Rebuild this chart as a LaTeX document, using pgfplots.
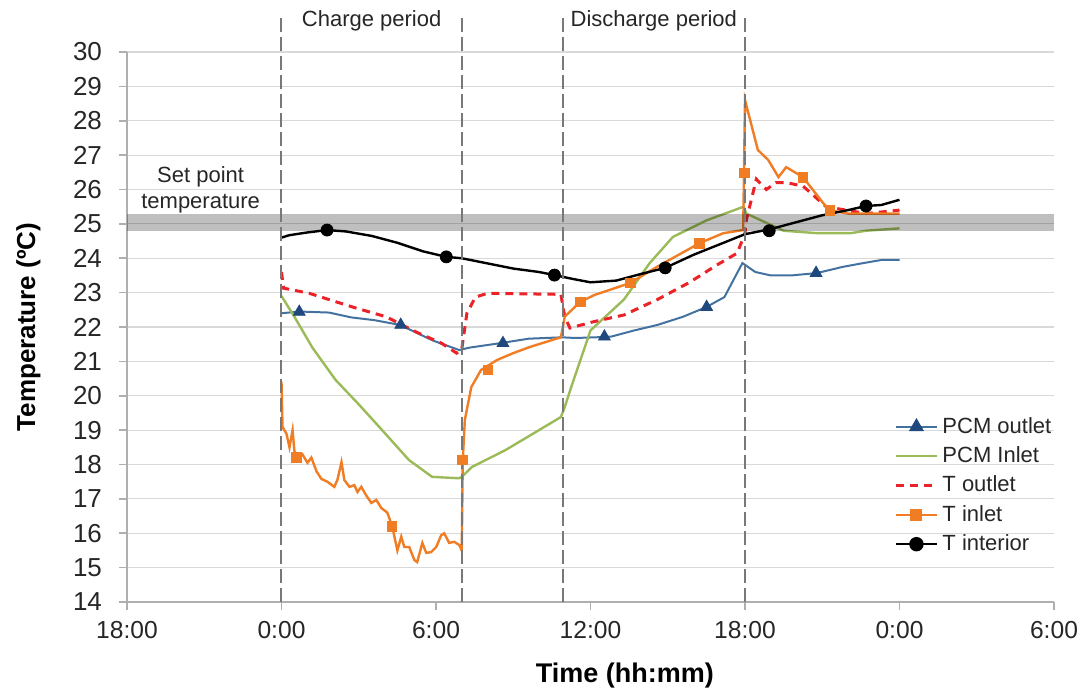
\documentclass[border=0pt]{standalone}
\usepackage{fontspec}
\setmainfont{Liberation Sans}
\usepackage{pgfplots}
\pgfplotsset{compat=1.18}

\definecolor{pcmline}{RGB}{68,114,160}
\definecolor{pcmmark}{RGB}{31,73,125}
\definecolor{pcmgreen}{RGB}{155,187,89}
\definecolor{tout}{RGB}{235,35,40}
\definecolor{tin}{RGB}{240,125,35}
\definecolor{gridc}{RGB}{217,217,217}
\definecolor{axc}{RGB}{175,175,175}
\definecolor{dashc}{RGB}{120,120,120}

\begin{document}
\begin{tikzpicture}
\begin{axis}[
  scale only axis, width=463.5pt, height=275pt,
  xmin=-6, xmax=30, ymin=14, ymax=30,
  clip=false,
  axis x line*=bottom, axis y line*=left,
  axis line style={-, axc, line width=0.8pt},
  xtick={-6,0,6,12,18,24,30},
  xticklabels={18:00,0:00,6:00,12:00,18:00,0:00,6:00},
  ytick={14,15,...,30},
  ymajorgrids, grid style={gridc, line width=0.6pt},
  tick align=outside, major tick length=4pt,
  tick style={axc, line width=0.8pt},
  /pgf/number format/assume math mode=true,
  yticklabel style={font=\fontsize{13}{15}\selectfont, text=black!85, xshift=-5pt},
  xticklabel style={font=\fontsize{12.3}{14}\selectfont, text=black!85, yshift=-2pt},
  xlabel={\textbf{Time (hh:mm)}},
  xlabel style={font=\fontsize{13.5}{16}\selectfont, at={(axis description cs:0.537,-0.147)}, anchor=base},
  ylabel={\textbf{Temperature (ºC)}},
  ylabel style={font=\fontsize{13}{16}\selectfont, at={(axis description cs:-0.099,0.5)}, anchor=base, rotate=0},
  legend style={draw=none, fill=none, at={(0.821,0.351)}, anchor=north west,
    font=\fontsize{11}{13}\selectfont, row sep=1.2pt, text=black!85},
  legend cell align=left,
  legend image code/.code={\draw[mark repeat=2,mark phase=2,#1] plot coordinates {(0pt,0pt)(10.25pt,0pt)(20.5pt,0pt)};},
]
\coordinate (sw) at (rel axis cs:0,0);

% PCM outlet
\addplot[pcmline, line width=1pt, no markers, forget plot] coordinates {
(0,22.40)(0.7,22.45)(1.85,22.42)(2.7,22.28)(3.6,22.2)(4.6,22.06)(5.9,21.6)(6.9,21.33)
(7.3,21.4)(8.5,21.53)(9.6,21.66)(10.9,21.7)(11.4,21.68)(12.2,21.7)(12.8,21.72)
(13.7,21.9)(14.6,22.06)(15.6,22.3)(16.5,22.58)(17.2,22.87)(17.9,23.86)(18.4,23.6)
(19.0,23.5)(19.8,23.5)(20.8,23.57)(21.8,23.75)(22.6,23.86)(23.3,23.95)(24.0,23.95)};
\addplot[only marks, mark=triangle*, mark size=3.4pt, color=pcmmark, forget plot] coordinates {
(0.69,22.44)(4.63,22.06)(8.6,21.53)(12.54,21.72)(16.51,22.58)(20.76,23.57)};

% PCM inlet
\addplot[pcmgreen, line width=1.2pt, no markers, forget plot] coordinates {
(0,22.9)(0.5,22.3)(1.2,21.4)(2.1,20.46)(3.0,19.75)(3.8,19.09)(4.95,18.13)(5.85,17.64)
(6.9,17.6)(7.0,17.64)(7.4,17.93)(8.7,18.42)(10.0,19.0)(10.85,19.38)(11.0,19.67)
(11.25,20.25)(12.0,21.9)(13.3,22.8)(14.3,23.86)(15.2,24.62)(16.5,25.1)(17.95,25.5)
(18.05,25.3)(19.5,24.8)(20.8,24.73)(22.1,24.73)(22.7,24.8)(24.0,24.87)};

% T outlet
\addplot[tout, line width=1.5pt, dash pattern=on 4pt off 3pt, no markers, forget plot] coordinates {
(0.0,23.6)(0.08,23.13)(1.08,22.98)(2.13,22.73)(2.9,22.55)(4.05,22.3)(5.33,21.82)
(6.21,21.53)(6.8,21.24)(7.0,21.35)(7.2,22.4)(7.53,22.87)(8.0,22.98)(10.85,22.95)
(11.0,22.3)(11.2,21.97)(12.1,22.15)(13.3,22.35)(14.6,22.8)(15.85,23.3)(16.9,23.8)
(17.7,24.15)(18.0,24.73)(18.05,25.1)(18.44,26.3)(18.83,26.0)(19.2,26.2)(19.6,26.2)
(20.25,26.1)(21.15,25.5)(22.7,25.3)(24.0,25.4)};

% T inlet
\addplot[tin, line width=1.2pt, no markers, forget plot] coordinates {
(0.0,20.4)(0.04,19.09)(0.19,18.9)(0.31,18.5)(0.43,19.0)(0.50,18.4)(0.62,18.2)(0.81,18.3)
(1.01,18.05)(1.16,18.2)(1.36,17.8)(1.55,17.58)(1.78,17.5)(2.05,17.35)(2.17,17.55)
(2.33,18.07)(2.44,17.55)(2.64,17.35)(2.83,17.4)(2.95,17.2)(3.10,17.35)(3.29,17.1)
(3.49,16.88)(3.68,16.97)(3.88,16.73)(4.11,16.6)(4.30,16.2)(4.50,15.5)(4.65,15.9)
(4.77,15.6)(4.96,15.6)(5.16,15.22)(5.27,15.16)(5.47,15.72)(5.62,15.43)(5.81,15.45)
(6.01,15.6)(6.20,15.94)(6.32,16.0)(6.51,15.72)(6.71,15.75)(6.90,15.66)(7.0,15.5)
(7.04,18.13)(7.12,19.3)(7.27,19.87)(7.37,20.25)(7.75,20.75)(8.37,21.04)(9.0,21.24)
(9.65,21.42)(10.85,21.7)(11.0,22.3)(11.6,22.73)(12.15,22.93)(13.54,23.28)(14.58,23.75)
(16.24,24.44)(17.16,24.73)(17.93,24.82)(17.96,26.48)(18.0,28.6)(18.5,27.15)(18.9,26.86)
(19.3,26.36)(19.6,26.65)(20.25,26.36)(21.25,25.4)(22.0,25.3)(24.0,25.3)};
\addplot[only marks, mark=square*, mark size=2.4pt, color=tin, forget plot] coordinates {
(0.58,18.2)(4.28,16.2)(7.02,18.13)(8.02,20.75)(11.61,22.73)(13.54,23.28)(16.24,24.44)
(17.97,26.48)(20.25,26.36)(21.3,25.4)};

% T interior
\addplot[black, line width=1.2pt, no markers, forget plot] coordinates {
(0,24.6)(0.3,24.67)(1.0,24.75)(1.77,24.82)(2.5,24.78)(3.5,24.65)(4.5,24.45)(5.5,24.2)
(6.4,24.04)(7.0,24.0)(8.0,23.85)(9.0,23.7)(10.0,23.6)(10.6,23.51)(11.3,23.4)(12.0,23.3)
(13.0,23.35)(14.0,23.55)(14.9,23.72)(16.0,24.1)(17.0,24.4)(18.0,24.7)(19.0,24.85)
(20.0,25.05)(21.0,25.25)(22.0,25.4)(22.7,25.52)(23.3,25.55)(24.0,25.7)};
\addplot[only marks, mark=*, mark size=3pt, color=black, forget plot] coordinates {
(1.77,24.82)(6.4,24.04)(10.6,23.51)(14.9,23.72)(18.94,24.8)(22.7,25.52)};

% set point band
\fill[black, opacity=0.25] (axis cs:-6,24.8) rectangle (axis cs:30,25.3);

% period lines
\draw[dashc, line width=1pt, dash pattern=on 7pt off 2.5pt] (axis cs:0,14) -- (axis cs:0,31.1);
\draw[dashc, line width=1pt, dash pattern=on 7pt off 2.5pt] (axis cs:7,14) -- (axis cs:7,31.1);
\draw[dashc, line width=1pt, dash pattern=on 7pt off 2.5pt] (axis cs:10.95,14) -- (axis cs:10.95,31.1);
\draw[dashc, line width=1pt, dash pattern=on 7pt off 2.5pt] (axis cs:18,14) -- (axis cs:18,31.1);

\node[anchor=base, font=\fontsize{11}{13}\selectfont, text=black!85] at (axis cs:3.5,30.75) {Charge period};
\node[anchor=base, font=\fontsize{11}{13}\selectfont, text=black!85] at (axis cs:14.46,30.75) {Discharge period};
\node[align=center, font=\fontsize{11}{13}\selectfont, text=black!85] at (axis cs:-3.14,26.0) {Set point\\temperature};

\addlegendimage{pcmline, line width=1pt, mark=triangle*, mark size=3.4pt, mark options={pcmmark, solid}}
\addlegendimage{pcmgreen, line width=1.2pt, no markers}
\addlegendimage{tout, line width=1.5pt, dash pattern=on 4pt off 3pt, no markers}
\addlegendimage{tin, line width=1.2pt, mark=square*, mark size=2.4pt, mark options={solid}}
\addlegendimage{black, line width=1.2pt, mark=*, mark size=3pt}
\legend{PCM outlet, PCM Inlet, T outlet, T inlet, T interior}
\end{axis}
\pgfresetboundingbox
\path (sw) ++(-63.5pt,-44.5pt) rectangle ++(543.5pt,345.5pt);
\end{tikzpicture}
\end{document}
